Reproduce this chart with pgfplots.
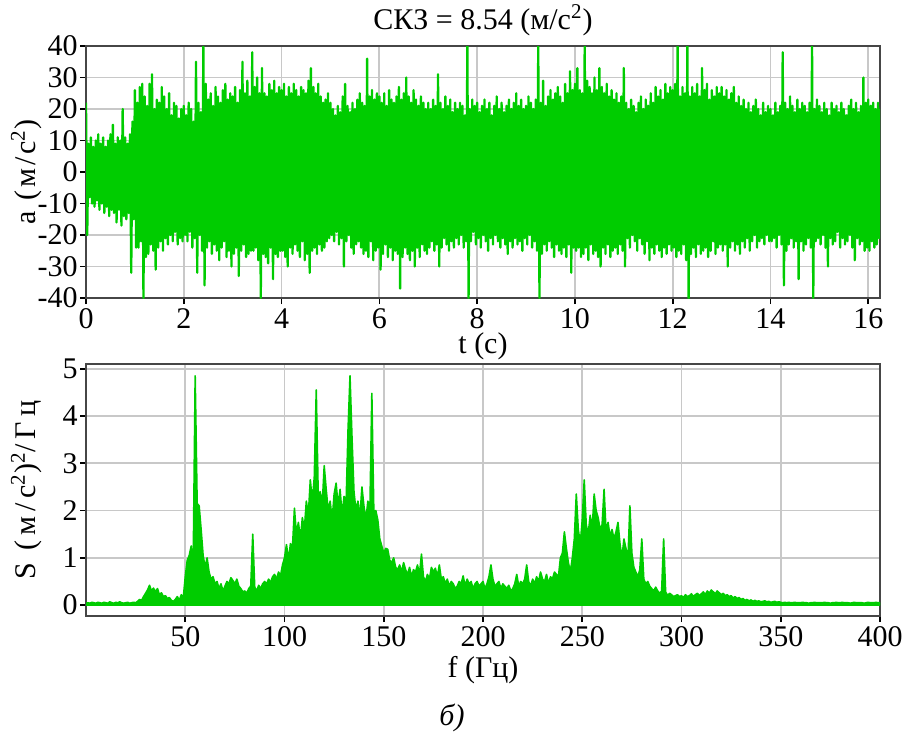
\documentclass[border=0pt]{standalone}
\usepackage{fontspec}
\setmainfont{Liberation Serif}
\usepackage{pgfplots}
\pgfplotsset{compat=1.18}
\definecolor{sig}{RGB}{0,204,0}
\definecolor{framec}{RGB}{70,70,70}
\definecolor{gridc}{RGB}{200,200,200}
\newcommand\ff{\fontsize{15}{18}\selectfont}
\newfontfamily\spaced[LetterSpace=10]{Liberation Serif}
\newfontfamily\spacedb[LetterSpace=16]{Liberation Serif}
\begin{document}
\begin{tikzpicture}
\path[use as bounding box] (0,0) rectangle (454.5pt,-371.5pt);
\pgfplotsset{
  myaxis/.style={
    scale only axis, width=397pt, height=126pt, anchor=south west,
    grid=major, major grid style={gridc, line width=0.9pt},
    axis line style={framec, line width=1.2pt},
    tick align=outside, tick pos=left, major tick length=3pt,
    tick style={black, line width=0.8pt},
    tick label style={font=\ff},
    label style={font=\ff},
    title style={font=\ff},
    xticklabel style={inner ysep=2pt},
    yticklabel style={inner xsep=1pt},
  }
}
% ---------------- top: acceleration ----------------
\begin{axis}[myaxis, at={(43pt,-149pt)},
  xmin=0, xmax=16.24, ymin=-40, ymax=40,
  xtick={0,2,4,6,8,10,12,14,16},
  ytick={-40,-30,-20,-10,0,10,20,30,40},
  yticklabels={-40,-30,-20,-10,0,10,20,30,40},
  xticklabels={0,2,4,6,8,10,12,14,16},
  title={СКЗ = 8.54 (м/с\textsuperscript{2})},
  title style={at={(axis description cs:0.5,1.055)}, anchor=center},
  xlabel={t (с)},
  xlabel style={at={(axis description cs:0.5,-0.19)}, anchor=center},
  ylabel={a (м/с\textsuperscript{2})},
  ylabel style={at={(axis description cs:-0.075,0.5)}, anchor=center, font=\ff\spaced},
]
\addplot[sig, line width=1.15pt, line join=round] table[header=false, row sep=\\, x expr=\coordindex/40, y index=0] {
22\\ -20\\ 9\\ -8\\ 11\\ -10\\ 8\\ -11\\ 10\\ -9\\ 12\\ -12\\ 9\\ -10\\ 11\\ -13\\ 8\\ -11\\ 10\\ -14\\ 12\\ -12\\ 15\\ -13\\ 9\\ -16\\ 11\\ -12\\ 10\\ -17\\ 20\\ -14\\ 11\\ -15\\ 9\\ -13\\ 12\\ -32\\ 16\\ -15\\
26\\ -24\\ 22\\ -24\\ 27\\ -22\\ 28\\ -40\\ 24\\ -27\\ 21\\ -26\\ 28\\ -23\\ 31\\ -25\\ 20\\ -31\\ 23\\ -24\\ 22\\ -22\\ 27\\ -25\\ 24\\ -21\\ 20\\ -23\\ 25\\ -20\\ 18\\ -22\\ 22\\ -19\\ 21\\ -23\\ 17\\ -21\\ 20\\ -22\\
21\\ -20\\ 18\\ -22\\ 22\\ -19\\ 20\\ -24\\ 16\\ -21\\ 35\\ -32\\ 22\\ -20\\ 19\\ -25\\ 40\\ -36\\ 28\\ -24\\ 23\\ -22\\ 25\\ -26\\ 21\\ -23\\ 27\\ -25\\ 24\\ -28\\ 22\\ -24\\ 26\\ -22\\ 28\\ -27\\ 23\\ -25\\ 25\\ -30\\
24\\ -26\\ 27\\ -24\\ 22\\ -33\\ 26\\ -25\\ 35\\ -23\\ 25\\ -27\\ 29\\ -26\\ 24\\ -25\\ 38\\ -25\\ 27\\ -24\\ 30\\ -28\\ 25\\ -40\\ 33\\ -26\\ 25\\ -27\\ 24\\ -29\\ 28\\ -24\\ 26\\ -34\\ 29\\ -26\\ 25\\ -27\\ 27\\ -25\\
26\\ -25\\ 28\\ -27\\ 24\\ -30\\ 27\\ -24\\ 25\\ -26\\ 28\\ -23\\ 26\\ -25\\ 24\\ -27\\ 27\\ -22\\ 26\\ -28\\ 25\\ -26\\ 29\\ -32\\ 33\\ -25\\ 27\\ -24\\ 25\\ -26\\ 28\\ -23\\ 24\\ -25\\ 22\\ -24\\ 23\\ -22\\ 25\\ -21\\
22\\ -20\\ 20\\ -22\\ 18\\ -19\\ 21\\ -23\\ 19\\ -21\\ 24\\ -30\\ 28\\ -22\\ 21\\ -20\\ 19\\ -24\\ 22\\ -26\\ 20\\ -23\\ 23\\ -22\\ 25\\ -24\\ 22\\ -26\\ 21\\ -25\\ 36\\ -27\\ 24\\ -22\\ 26\\ -28\\ 23\\ -25\\ 25\\ -24\\
24\\ -31\\ 22\\ -26\\ 25\\ -23\\ 21\\ -27\\ 26\\ -24\\ 23\\ -28\\ 22\\ -25\\ 24\\ -26\\ 27\\ -37\\ 23\\ -27\\ 25\\ -24\\ 30\\ -26\\ 24\\ -28\\ 22\\ -25\\ 26\\ -30\\ 23\\ -24\\ 21\\ -27\\ 24\\ -23\\ 22\\ -25\\ 20\\ -26\\
22\\ -24\\ 20\\ -22\\ 23\\ -25\\ 21\\ -23\\ 31\\ -30\\ 22\\ -24\\ 20\\ -21\\ 24\\ -23\\ 21\\ -25\\ 23\\ -22\\ 19\\ -24\\ 22\\ -21\\ 20\\ -23\\ 22\\ -20\\ 21\\ -24\\ 18\\ -22\\ 40\\ -40\\ 20\\ -22\\ 23\\ -19\\ 21\\ -23\\
22\\ -21\\ 19\\ -24\\ 21\\ -20\\ 23\\ -22\\ 20\\ -25\\ 22\\ -21\\ 18\\ -23\\ 21\\ -20\\ 24\\ -22\\ 20\\ -24\\ 22\\ -21\\ 19\\ -23\\ 21\\ -26\\ 23\\ -22\\ 20\\ -24\\ 22\\ -21\\ 25\\ -23\\ 21\\ -22\\ 23\\ -25\\ 20\\ -21\\
21\\ -23\\ 24\\ -20\\ 22\\ -24\\ 20\\ -22\\ 23\\ -25\\ 40\\ -40\\ 22\\ -26\\ 29\\ -23\\ 21\\ -25\\ 24\\ -22\\ 26\\ -24\\ 23\\ -27\\ 25\\ -23\\ 27\\ -25\\ 24\\ -26\\ 22\\ -24\\ 28\\ -27\\ 25\\ -23\\ 32\\ -32\\ 26\\ -24\\
28\\ -25\\ 33\\ -24\\ 26\\ -27\\ 25\\ -26\\ 40\\ -24\\ 29\\ -28\\ 27\\ -23\\ 25\\ -26\\ 30\\ -25\\ 26\\ -27\\ 33\\ -30\\ 27\\ -24\\ 25\\ -26\\ 28\\ -23\\ 24\\ -27\\ 26\\ -25\\ 23\\ -24\\ 25\\ -26\\ 22\\ -23\\ 24\\ -25\\
33\\ -30\\ 22\\ -21\\ 20\\ -24\\ 23\\ -20\\ 21\\ -22\\ 19\\ -25\\ 22\\ -21\\ 24\\ -23\\ 20\\ -26\\ 23\\ -22\\ 21\\ -28\\ 25\\ -24\\ 22\\ -26\\ 27\\ -23\\ 24\\ -25\\ 26\\ -27\\ 23\\ -24\\ 28\\ -26\\ 25\\ -23\\ 27\\ -25\\
26\\ -24\\ 28\\ -27\\ 40\\ -25\\ 24\\ -26\\ 27\\ -23\\ 25\\ -28\\ 40\\ -40\\ 24\\ -26\\ 27\\ -24\\ 25\\ -27\\ 28\\ -23\\ 24\\ -26\\ 33\\ -25\\ 26\\ -24\\ 28\\ -27\\ 23\\ -25\\ 26\\ -22\\ 24\\ -26\\ 27\\ -24\\ 25\\ -23\\
27\\ -25\\ 24\\ -23\\ 26\\ -30\\ 23\\ -24\\ 25\\ -22\\ 27\\ -25\\ 22\\ -23\\ 24\\ -26\\ 21\\ -22\\ 23\\ -24\\ 20\\ -21\\ 22\\ -25\\ 19\\ -22\\ 21\\ -20\\ 23\\ -24\\ 20\\ -22\\ 18\\ -21\\ 22\\ -23\\ 19\\ -20\\ 21\\ -22\\
20\\ -22\\ 18\\ -21\\ 22\\ -24\\ 19\\ -20\\ 21\\ -23\\ 38\\ -36\\ 22\\ -25\\ 20\\ -23\\ 24\\ -21\\ 21\\ -24\\ 19\\ -22\\ 23\\ -34\\ 20\\ -22\\ 22\\ -25\\ 21\\ -23\\ 19\\ -21\\ 22\\ -24\\ 40\\ -40\\ 20\\ -22\\ 23\\ -21\\
21\\ -23\\ 19\\ -20\\ 22\\ -24\\ 20\\ -30\\ 18\\ -21\\ 22\\ -23\\ 20\\ -22\\ 21\\ -19\\ 19\\ -24\\ 22\\ -21\\ 20\\ -23\\ 18\\ -22\\ 21\\ -20\\ 23\\ -24\\ 20\\ -28\\ 22\\ -21\\ 19\\ -23\\ 21\\ -22\\ 30\\ -25\\ 22\\ -24\\
23\\ -25\\ 21\\ -22\\ 22\\ -24\\ 20\\ -23\\ 22\\ -21\\ 20\\
};
\end{axis}
% ---------------- bottom: spectrum ----------------
\begin{axis}[myaxis, at={(43pt,-308pt)},
  xmin=0, xmax=400, ymin=-0.23, ymax=5.1,
  xtick={50,100,150,200,250,300,350,400},
  xticklabels={50,100,150,200,250,300,350,400},
  ytick={0,1,2,3,4,5},
  yticklabels={0,1,2,3,4,5},
  xlabel={f (Гц)},
  xlabel style={at={(axis description cs:0.5,-0.215)}, anchor=center},
  ylabel={S (м/с\textsuperscript{2})\textsuperscript{2}/Гц},
  ylabel style={at={(axis description cs:-0.075,0.5)}, anchor=center, font=\ff\spacedb},
]
\addplot[sig, fill=sig, line width=0.8pt, line join=round] table[header=false, row sep=\\, x expr=\coordindex, y index=0] {
0.04\\ 0.05\\ 0.04\\ 0.06\\ 0.05\\ 0.04\\ 0.06\\ 0.05\\ 0.04\\ 0.06\\
0.05\\ 0.04\\ 0.07\\ 0.05\\ 0.04\\ 0.06\\ 0.05\\ 0.07\\ 0.05\\ 0.04\\
0.05\\ 0.06\\ 0.04\\ 0.05\\ 0.06\\ 0.05\\ 0.08\\ 0.12\\ 0.10\\ 0.18\\
0.25\\ 0.32\\ 0.42\\ 0.30\\ 0.36\\ 0.28\\ 0.35\\ 0.22\\ 0.26\\ 0.18\\
0.20\\ 0.14\\ 0.16\\ 0.10\\ 0.08\\ 0.12\\ 0.18\\ 0.10\\ 0.22\\ 0.15\\
0.60\\ 0.95\\ 1.05\\ 1.25\\ 0.85\\ 4.85\\ 2.15\\ 2.10\\ 1.60\\ 1.05\\
0.80\\ 1.00\\ 0.70\\ 0.55\\ 0.60\\ 0.45\\ 0.50\\ 0.35\\ 0.45\\ 0.30\\
0.40\\ 0.50\\ 0.45\\ 0.58\\ 0.52\\ 0.45\\ 0.55\\ 0.40\\ 0.35\\ 0.28\\
0.30\\ 0.25\\ 0.35\\ 0.40\\ 1.50\\ 0.38\\ 0.30\\ 0.42\\ 0.35\\ 0.45\\
0.50\\ 0.45\\ 0.55\\ 0.48\\ 0.60\\ 0.65\\ 0.55\\ 0.70\\ 0.62\\ 0.85\\
1.00\\ 1.28\\ 0.95\\ 1.30\\ 1.20\\ 2.05\\ 1.50\\ 1.75\\ 1.40\\ 1.85\\
1.60\\ 2.20\\ 1.90\\ 2.65\\ 2.20\\ 2.70\\ 4.55\\ 2.30\\ 2.40\\ 2.10\\
2.95\\ 2.45\\ 2.00\\ 2.20\\ 1.80\\ 2.35\\ 2.58\\ 2.10\\ 2.45\\ 1.90\\
2.30\\ 2.10\\ 3.70\\ 4.85\\ 3.55\\ 2.40\\ 2.00\\ 2.20\\ 1.85\\ 2.50\\
2.10\\ 1.80\\ 2.20\\ 1.95\\ 4.48\\ 1.98\\ 2.00\\ 1.80\\ 1.40\\ 1.25\\
1.10\\ 1.20\\ 1.18\\ 0.95\\ 0.90\\ 1.00\\ 0.80\\ 0.75\\ 0.85\\ 0.70\\
0.90\\ 0.75\\ 0.65\\ 0.80\\ 0.60\\ 0.75\\ 0.70\\ 0.85\\ 0.65\\ 1.08\\
0.60\\ 0.50\\ 0.65\\ 0.55\\ 0.80\\ 0.70\\ 0.78\\ 0.60\\ 0.85\\ 0.55\\
0.60\\ 0.45\\ 0.55\\ 0.40\\ 0.50\\ 0.45\\ 0.35\\ 0.40\\ 0.50\\ 0.45\\
0.62\\ 0.40\\ 0.55\\ 0.45\\ 0.50\\ 0.35\\ 0.45\\ 0.50\\ 0.40\\ 0.45\\
0.50\\ 0.35\\ 0.45\\ 0.60\\ 0.85\\ 0.55\\ 0.40\\ 0.45\\ 0.50\\ 0.35\\
0.45\\ 0.40\\ 0.35\\ 0.42\\ 0.30\\ 0.35\\ 0.45\\ 0.65\\ 0.40\\ 0.50\\
0.45\\ 0.55\\ 0.85\\ 0.50\\ 0.40\\ 0.55\\ 0.45\\ 0.60\\ 0.50\\ 0.70\\
0.55\\ 0.50\\ 0.65\\ 0.45\\ 0.60\\ 0.55\\ 0.70\\ 0.65\\ 0.60\\ 1.00\\
1.10\\ 1.55\\ 1.20\\ 0.90\\ 0.70\\ 1.00\\ 1.40\\ 2.35\\ 1.60\\ 1.30\\
1.80\\ 2.65\\ 1.70\\ 1.50\\ 1.90\\ 1.60\\ 2.35\\ 2.00\\ 1.85\\ 1.60\\
1.70\\ 2.45\\ 1.55\\ 1.75\\ 1.45\\ 1.60\\ 1.40\\ 1.55\\ 1.75\\ 1.30\\
1.00\\ 1.40\\ 1.20\\ 0.95\\ 2.10\\ 1.10\\ 0.80\\ 0.70\\ 0.60\\ 0.75\\
1.40\\ 0.55\\ 0.45\\ 0.50\\ 0.40\\ 0.35\\ 0.30\\ 0.38\\ 0.30\\ 0.25\\
0.30\\ 1.40\\ 0.28\\ 0.20\\ 0.25\\ 0.22\\ 0.18\\ 0.20\\ 0.22\\ 0.18\\
0.20\\ 0.16\\ 0.22\\ 0.18\\ 0.20\\ 0.24\\ 0.18\\ 0.22\\ 0.25\\ 0.20\\
0.24\\ 0.28\\ 0.22\\ 0.30\\ 0.25\\ 0.32\\ 0.28\\ 0.24\\ 0.30\\ 0.26\\
0.22\\ 0.25\\ 0.20\\ 0.22\\ 0.18\\ 0.20\\ 0.15\\ 0.18\\ 0.14\\ 0.16\\
0.12\\ 0.14\\ 0.10\\ 0.12\\ 0.09\\ 0.11\\ 0.08\\ 0.10\\ 0.08\\ 0.09\\
0.07\\ 0.08\\ 0.09\\ 0.07\\ 0.08\\ 0.06\\ 0.07\\ 0.08\\ 0.06\\ 0.07\\
0.06\\ 0.05\\ 0.06\\ 0.05\\ 0.06\\ 0.05\\ 0.05\\ 0.06\\ 0.05\\ 0.05\\
0.05\\ 0.06\\ 0.05\\ 0.05\\ 0.04\\ 0.05\\ 0.05\\ 0.06\\ 0.05\\ 0.05\\
0.05\\ 0.05\\ 0.06\\ 0.05\\ 0.05\\ 0.04\\ 0.05\\ 0.05\\ 0.06\\ 0.05\\
0.05\\ 0.06\\ 0.05\\ 0.05\\ 0.05\\ 0.04\\ 0.05\\ 0.06\\ 0.05\\ 0.05\\
0.05\\ 0.05\\ 0.04\\ 0.05\\ 0.06\\ 0.05\\ 0.05\\ 0.05\\ 0.06\\ 0.05\\
0.05\\
} \closedcycle;
\end{axis}
\node[font=\ff\itshape] at (226pt,-359pt) {б)};
\end{tikzpicture}
\end{document}
